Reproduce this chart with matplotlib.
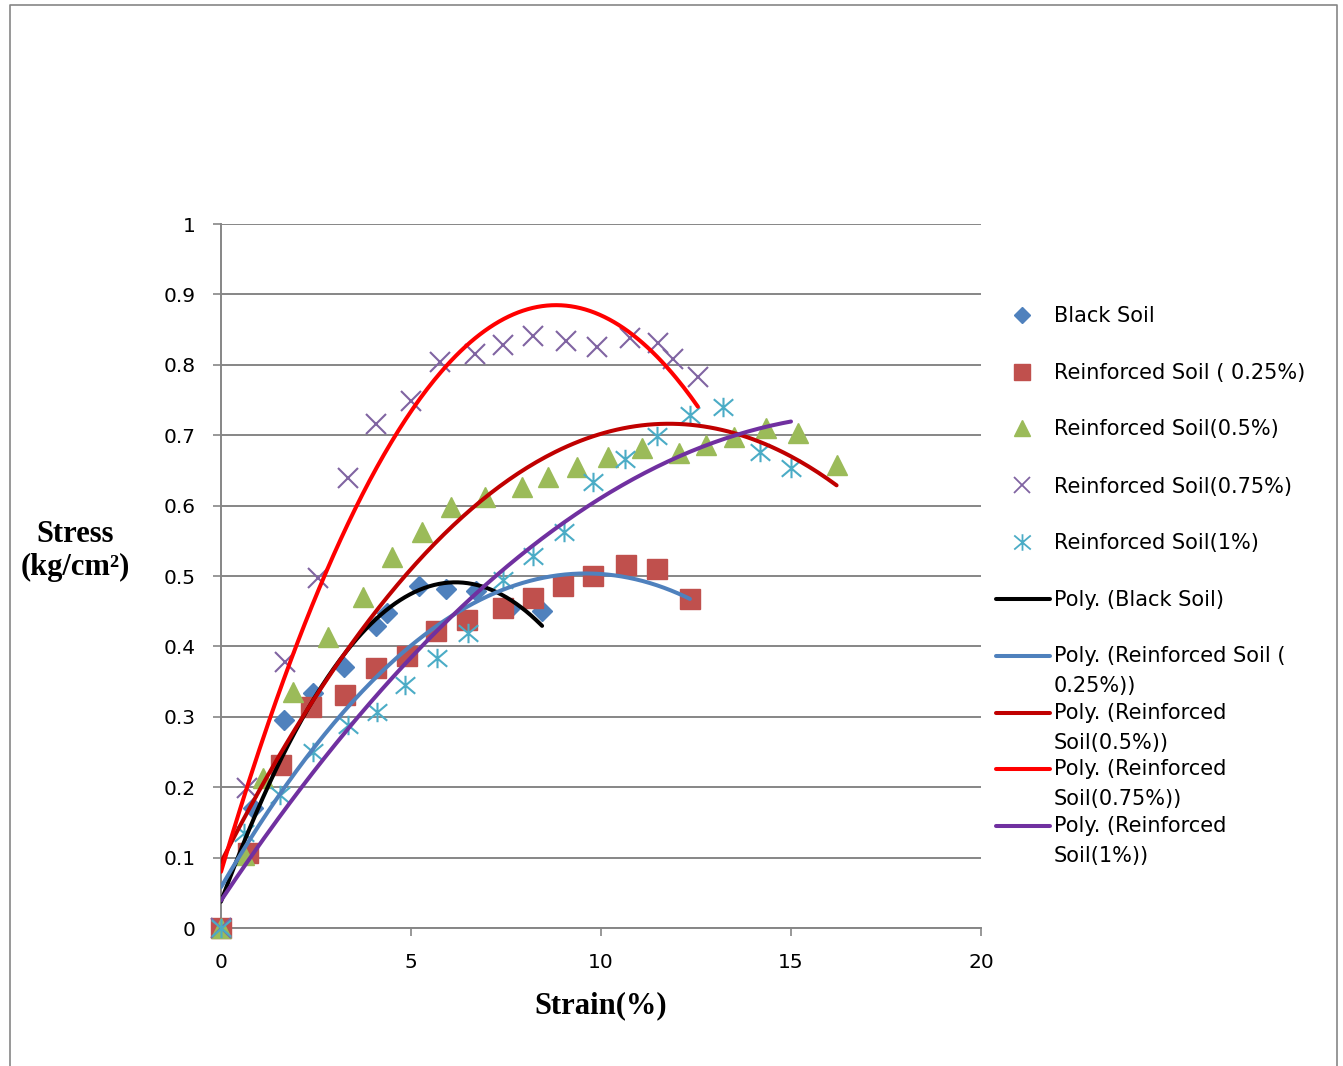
import numpy as np
import matplotlib
matplotlib.use("Agg")
import matplotlib.pyplot as plt
from matplotlib.path import Path

# ---------------- data ----------------
black_x = [0, 0.85, 1.66, 2.42, 3.24, 4.08, 4.37, 5.21, 5.92, 6.71, 7.6, 8.45]
black_y = [0, 0.170, 0.295, 0.334, 0.371, 0.429, 0.447, 0.486, 0.482, 0.478, 0.455, 0.450]

r025_x = [0, 0.72, 1.58, 2.37, 3.26, 4.08, 4.89, 5.66, 6.47, 7.42, 8.21, 9.0, 9.79, 10.66, 11.47, 12.34]
r025_y = [0, 0.107, 0.232, 0.314, 0.331, 0.369, 0.386, 0.422, 0.438, 0.455, 0.469, 0.486, 0.500, 0.515, 0.510, 0.468]

r05_x = [0, 0.6, 1.1, 1.89, 2.82, 3.74, 4.5, 5.29, 6.05, 6.95, 7.92, 8.6, 9.37, 10.18,
         11.07, 12.05, 12.76, 13.5, 14.34, 15.18, 16.2]
r05_y = [0, 0.104, 0.213, 0.335, 0.413, 0.470, 0.527, 0.563, 0.598, 0.612, 0.626, 0.641,
         0.655, 0.669, 0.682, 0.675, 0.686, 0.697, 0.710, 0.703, 0.658]

r075_x = [0, 0.68, 1.68, 2.55, 3.34, 4.08, 5.0, 5.76, 6.68, 7.42, 8.21, 9.08, 9.89,
          10.76, 11.5, 11.9, 12.55]
r075_y = [0, 0.199, 0.378, 0.497, 0.639, 0.716, 0.749, 0.804, 0.815, 0.828, 0.841, 0.834,
          0.825, 0.838, 0.831, 0.808, 0.783]

r1_x = [0, 0.6, 1.55, 2.42, 3.34, 4.1, 4.84, 5.68, 6.5, 7.42, 8.21, 9.03, 9.79, 10.63,
        11.47, 12.34, 13.2, 14.18, 15.0]
r1_y = [0, 0.135, 0.189, 0.250, 0.288, 0.307, 0.345, 0.383, 0.419, 0.494, 0.528, 0.563,
        0.634, 0.666, 0.699, 0.729, 0.740, 0.676, 0.653]

series_labels = ["Black Soil", "Reinforced Soil ( 0.25%)", "Reinforced Soil(0.5%)",
                 "Reinforced Soil(0.75%)", "Reinforced Soil(1%)"]
trend_labels = ["Poly. (Black Soil)", "Poly. (Reinforced Soil (\n0.25%))",
                "Poly. (Reinforced\nSoil(0.5%))", "Poly. (Reinforced\nSoil(0.75%))",
                "Poly. (Reinforced\nSoil(1%))"]
x_ticks = [0, 5, 10, 15, 20]
y_ticks = [0, 0.1, 0.2, 0.3, 0.4, 0.5, 0.6, 0.7, 0.8, 0.9, 1.0]
y_tick_labels = ["0", "0.1", "0.2", "0.3", "0.4", "0.5", "0.6", "0.7", "0.8", "0.9", "1"]

# ---------------- styles ----------------
W, H = 1343, 1066
grey = "#868686"
mk_colors = ["#4F81BD", "#C0504D", "#9BBB59", "#8064A2", "#4BACC6"]
star = Path([(-1, -0.85), (1, 0.85), (-1, 0.85), (1, -0.85), (0, -1), (0, 1)],
            [Path.MOVETO, Path.LINETO, Path.MOVETO, Path.LINETO, Path.MOVETO, Path.LINETO])
markers = ["D", "s", "^", "x", star]
msizes = [10, 14, 14, 14, 14]
filled = [True, True, True, False, False]
trend_colors = ["#000000", "#4F81BD", "#C00000", "#FF0000", "#7030A0"]

fig = plt.figure(figsize=(W / 100, H / 100), dpi=100)
ax = fig.add_axes([221 / W, 1 - 928 / H, 760 / W, 704 / H])

xs = [black_x, r025_x, r05_x, r075_x, r1_x]
ys = [black_y, r025_y, r05_y, r075_y, r1_y]

for i in range(5):
    if filled[i]:
        ax.plot(xs[i], ys[i], linestyle="none", marker=markers[i], ms=msizes[i],
                color=mk_colors[i], mec=mk_colors[i], zorder=3 + i * 0.1, clip_on=False)
    else:
        ax.plot(xs[i], ys[i], linestyle="none", marker=markers[i], ms=msizes[i],
                color=mk_colors[i], mew=1.5, zorder=3 + i * 0.1, clip_on=False)

for i in range(5):
    coef = np.polyfit(xs[i], ys[i], 2)
    xx = np.linspace(0, max(xs[i]), 200)
    ax.plot(xx, np.polyval(coef, xx), color=trend_colors[i], lw=2.9,
            solid_capstyle="round", zorder=5)

ax.set_xlim(0, 20)
ax.set_ylim(0, 1)
ax.set_xticks(x_ticks)
ax.set_xticklabels([str(t) for t in x_ticks])
ax.set_yticks(y_ticks)
ax.set_yticklabels(y_tick_labels)
ax.yaxis.grid(True, color=grey, lw=1.4, zorder=1)
ax.set_axisbelow(True)
for s in ["top", "right"]:
    ax.spines[s].set_visible(False)
for s in ["left", "bottom"]:
    ax.spines[s].set_color(grey)
    ax.spines[s].set_linewidth(1.4)
ax.tick_params(axis="both", direction="out", length=6, width=1.2, color=grey,
               labelsize=14.5, pad=12)
ax.set_xlabel("Strain(%)", family="Liberation Serif", fontweight="bold", fontsize=22,
              labelpad=14)

# overlay in pixel coordinates (frame, y title, legend)
ov = fig.add_axes([0, 0, 1, 1], zorder=10)
ov.set_xlim(0, W)
ov.set_ylim(H, 0)
ov.axis("off")
ov.patch.set_alpha(0)

ov.plot([10, 10, 1337, 1337], [H + 5, 5, 5, H + 5], color=grey, lw=1.2)

ov.text(75, 551, "Stress\n(kg/cm²)", ha="center", va="center", family="Liberation Serif",
        fontweight="bold", fontsize=22, linespacing=1.2)

# legend
leg_y = [315, 372, 428, 485, 542, 599, 656, 713, 769, 826]
for i in range(5):
    if filled[i]:
        ov.plot([1022], [leg_y[i]], marker=markers[i], ms=msizes[i] * 0.8,
                color=mk_colors[i], linestyle="none")
    else:
        ov.plot([1022], [leg_y[i]], marker=markers[i], ms=msizes[i] * 0.85,
                color=mk_colors[i], mew=1.3, linestyle="none")
    ov.text(1054, leg_y[i] + 7.5, series_labels[i], ha="left", va="baseline",
            fontsize=15, family="DejaVu Sans")
for j in range(5):
    y = leg_y[5 + j]
    ov.plot([996, 1050], [y, y], color=trend_colors[j], lw=2.9, solid_capstyle="round")
    if "\n" in trend_labels[j]:
        ov.text(1054, y - 10, trend_labels[j], ha="left", va="top",
                fontsize=15, family="DejaVu Sans", linespacing=1.6)
    else:
        ov.text(1054, y + 7.5, trend_labels[j], ha="left", va="baseline",
                fontsize=15, family="DejaVu Sans")

fig.savefig("out.png", dpi=100)
